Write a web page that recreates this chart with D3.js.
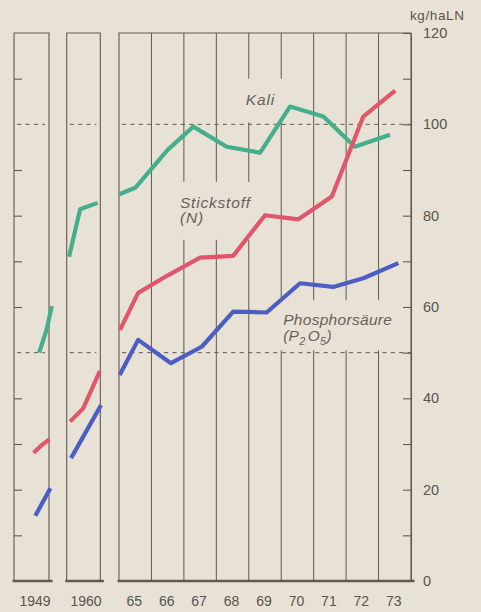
<!DOCTYPE html>
<html>
<head>
<meta charset="utf-8">
<script src="https://cdn.jsdelivr.net/npm/d3@7"></script>
<style>
  html, body { margin: 0; padding: 0; background: #e8e2d6; }
  svg { display: block; }
</style>
</head>
<body>
<svg id="chart" width="481" height="612"></svg>
<script>
// ---------------- data (year, kg/ha LN) ----------------
const kali1949  = [[1949.22, 50.0], [1949.43, 55.0], [1949.58, 60.2]];
const stick1949 = [[1949.06, 28.1], [1949.30, 29.8], [1949.51, 31.0]];
const phos1949  = [[1949.11, 14.3], [1949.54, 20.3]];

const kali1960  = [[1959.57, 71.0], [1959.90, 81.4], [1960.42, 82.8]];
const stick1960 = [[1959.60, 34.9], [1959.99, 37.8], [1960.49, 46.0]];
const phos1960  = [[1959.63, 26.9], [1960.52, 38.5]];

const kali6573  = [[1964.51, 84.7], [1965.00, 86.1], [1966.00, 94.4], [1966.79, 99.5],
                   [1967.82, 95.1], [1968.85, 93.8], [1969.77, 103.9], [1970.80, 101.7],
                   [1971.77, 95.1], [1972.85, 97.7]];
const stick6573 = [[1964.53, 55.0], [1965.09, 63.1], [1966.02, 67.0], [1967.00, 70.8],
                   [1968.02, 71.2], [1969.00, 80.1], [1970.03, 79.2], [1971.06, 84.2],
                   [1972.03, 101.7], [1973.01, 107.4]];
const phos6573  = [[1964.52, 45.1], [1965.09, 52.8], [1966.10, 47.7], [1967.05, 51.3],
                   [1968.02, 59.0], [1969.05, 58.8], [1970.08, 65.2], [1971.10, 64.4],
                   [1972.03, 66.3], [1973.11, 69.6]];

const years6573   = [1965, 1966, 1967, 1968, 1969, 1970, 1971, 1972, 1973];
const yearLabels  = ["65", "66", "67", "68", "69", "70", "71", "72", "73"];
const singleYears = [1949, 1960];
const yTicks      = [0, 10, 20, 30, 40, 50, 60, 70, 80, 90, 100, 110, 120];
const yLabels     = [0, 20, 40, 60, 80, 100, 120];
const refLevels   = [50, 100];
const unitLabel   = "kg/haLN";

// series labels (position in data units of the 1965-73 panel)
const seriesLabels = [
  { lines: ["Kali"], x: 1968.41, v: [104.2], ls: 0.8 },
  { lines: ["Stickstoff", "(N)"], x: 1966.38, v: [81.7, 78.3], ls: 0.8 },
  { lines: ["Phosphorsäure", "(P₂O₅)"], x: 1969.56, v: [56.0, 52.5], ls: 0.3 }
];
// interruptions of the year grid lines behind the labels
const gridGaps = [
  { at: [1968.5, 1969.5], v0: 100.4, v1: 110 },
  { at: [1966.5, 1967.5, 1968.5], v0: 74.7, v1: 87.4 },
  { at: [1969.5, 1970.5, 1971.5, 1972.5], v0: 50.5, v1: 61.5 }
];

// ---------------- drawing ----------------
const svg = d3.select("#chart");
const ink = "#625951";
const colors = { kali: "#44af8c", stick: "#e1566a", phos: "#4c5dc4" };

const y = d3.scaleLinear().domain([0, 120]).range([581, 33]);
const x1 = d3.scaleLinear().domain([1948.5, 1949.5]).range([14, 49]);
const x2 = d3.scaleLinear().domain([1959.5, 1960.5]).range([66.7, 100.3]);
const x3 = d3.scaleLinear().domain([1964.5, 1973.5]).range([119, 411]);
const panels = [
  { x: x1, kali: kali1949, stick: stick1949, phos: phos1949, year: singleYears[0] },
  { x: x2, kali: kali1960, stick: stick1960, phos: phos1960, year: singleYears[1] },
  { x: x3, kali: kali6573, stick: stick6573, phos: phos6573 }
];

// panel frames
panels.forEach(p => {
  const [a, b] = p.x.range();
  const g = svg.append("g").attr("stroke", ink).attr("fill", "none");
  g.append("path").attr("stroke-width", 1.1)
    .attr("d", `M${a},${y(0)}V${y(120)}H${b}V${y(0)}`);
  // base line
  g.append("line").attr("x1", a - 1.5).attr("x2", b + 3.5)
    .attr("y1", y(0)).attr("y2", y(0)).attr("stroke-width", 2.6);
  // dashed reference lines
  refLevels.forEach(v => {
    g.append("line")
      .attr("x1", a + 3).attr("x2", p.year ? b - 4 : b)
      .attr("y1", y(v)).attr("y2", y(v))
      .attr("stroke-width", 1).attr("stroke-dasharray", "4.2,4.2");
  });
});

// interior year lines of the 1965-73 panel with gaps behind labels
const bounds = d3.range(1965.5, 1973, 1);
bounds.forEach(bx => {
  const gaps = gridGaps.filter(g => g.at.includes(bx))
    .map(g => [g.v0, g.v1]).sort((p, q) => p[0] - q[0]);
  let start = 0;
  const segs = [];
  gaps.forEach(([g0, g1]) => { segs.push([start, g0]); start = g1; });
  segs.push([start, 120]);
  segs.forEach(([s0, s1]) => {
    svg.append("line")
      .attr("x1", x3(bx)).attr("x2", x3(bx))
      .attr("y1", y(s0)).attr("y2", y(s1))
      .attr("stroke", ink).attr("stroke-width", 1);
  });
});

// left ticks in 1949 panel
svg.append("g")
  .attr("transform", `translate(${x1.range()[0]},0)`)
  .call(d3.axisRight(y).tickValues(yTicks.filter(v => v > 0 && v < 120 && !refLevels.includes(v)))
    .tickSize(8).tickFormat(""))
  .call(g => g.select(".domain").remove())
  .call(g => g.selectAll("line").attr("stroke", ink).attr("stroke-width", 1.1));

// right value axis
const yAxis = svg.append("g")
  .attr("transform", `translate(${x3.range()[1]},0)`)
  .call(d3.axisRight(y).tickValues(yTicks).tickSizeInner(-8).tickSizeOuter(0)
    .tickPadding(12).tickFormat(v => yLabels.includes(v) ? v : ""));
yAxis.select(".domain").attr("stroke", ink).attr("stroke-width", 1.1);
yAxis.selectAll(".tick line").attr("stroke", ink).attr("stroke-width", 1.1);
yAxis.selectAll("text").attr("fill", "#59534d")
  .style("font-family", "'Liberation Sans', Arial, sans-serif").style("font-size", "14.5px");

svg.append("text")
  .attr("x", 410).attr("y", 20)
  .attr("fill", "#59534d")
  .style("font-family", "'Liberation Sans', Arial, sans-serif")
  .style("font-size", "13.5px").style("letter-spacing", "0.6px")
  .text(unitLabel);

// year labels
function yearAxis(x, vals, fmt) {
  const g = svg.append("g")
    .attr("transform", `translate(0,${y(0)})`)
    .call(d3.axisBottom(x).tickValues(vals).tickSize(0).tickPadding(15).tickFormat(fmt));
  g.select(".domain").remove();
  g.selectAll("text").attr("fill", "#59534d")
    .style("font-family", "'Liberation Sans', Arial, sans-serif").style("font-size", "14px");
}
yearAxis(d3.scaleLinear().domain(x1.domain()).range([x1.range()[0] + 3, x1.range()[1] + 3]), [singleYears[0]], d => d);
yearAxis(d3.scaleLinear().domain(x2.domain()).range([x2.range()[0] + 2, x2.range()[1] + 2]), [singleYears[1]], d => d);
yearAxis(d3.scaleLinear().domain(x3.domain()).range([x3.range()[0] - 1.5, x3.range()[1] - 1.5]),
  years6573, (d, i) => yearLabels[i]);

// series lines
panels.forEach(p => {
  const line = d3.line().x(d => p.x(d[0])).y(d => y(d[1]));
  [["kali", p.kali], ["stick", p.stick], ["phos", p.phos]].forEach(([k, data]) => {
    svg.append("path")
      .datum(data)
      .attr("d", line)
      .attr("fill", "none")
      .attr("stroke", colors[k])
      .attr("stroke-width", 4.2)
      .attr("stroke-linejoin", "round")
      .attr("stroke-linecap", "butt");
  });
});

// series labels
seriesLabels.forEach(l => {
  l.lines.forEach((t, i) => {
    const txt = svg.append("text")
      .attr("x", x3(l.x)).attr("y", y(l.v[i]))
      .attr("fill", "#67615b")
      .style("font-family", "'Liberation Sans', Arial, sans-serif")
      .style("font-style", "italic")
      .style("font-size", "15.5px")
      .style("letter-spacing", l.ls + "px");
    if (t === "(P₂O₅)") {
      txt.append("tspan").text("(P");
      txt.append("tspan").attr("dy", 4).style("font-size", "11px").text("2");
      txt.append("tspan").attr("dy", -4).attr("dx", 2).text("O");
      txt.append("tspan").attr("dy", 4).style("font-size", "11px").text("5");
      txt.append("tspan").attr("dy", -4).text(")");
    } else {
      txt.text(t);
    }
  });
});
</script>
</body>
</html>
